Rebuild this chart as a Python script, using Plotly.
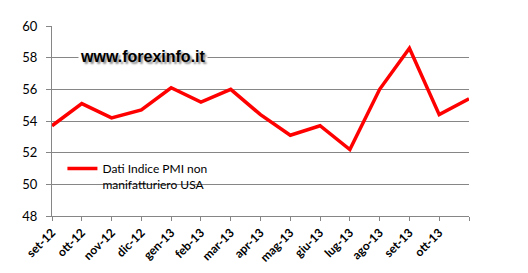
import plotly.graph_objects as go

months = ["set-12", "ott-12", "nov-12", "dic-12", "gen-13", "feb-13", "mar-13",
          "apr-13", "mag-13", "giu-13", "lug-13", "ago-13", "set-13", "ott-13", "nov-13"]
tick_labels = ["set-12", "ott-12", "nov-12", "dic-12", "gen-13", "feb-13", "mar-13",
               "apr-13", "mag-13", "giu-13", "lug-13", "ago-13", "set-13", "ott-13", ""]
pmi_values = [53.7, 55.1, 54.2, 54.7, 56.1, 55.2, 56.0,
              54.4, 53.1, 53.7, 52.2, 56.0, 58.6, 54.4, 55.4]
y_ticks = [48, 50, 52, 54, 56, 58, 60]

x_idx = list(range(len(months)))

fig = go.Figure()
fig.add_trace(go.Scatter(
    x=x_idx, y=pmi_values, mode="lines",
    line=dict(color="#FF0000", width=3.5),
    name="Dati Indice PMI non<br>manifatturiero USA",
    showlegend=True,
))

fig.update_layout(
    width=528, height=273,
    margin=dict(l=52, r=59, t=26, b=57, autoexpand=False),
    paper_bgcolor="white", plot_bgcolor="white",
    font=dict(family="Lato, Open Sans, sans-serif", color="#000000"),
    xaxis=dict(
        range=[0, 14], tickmode="array", tickvals=x_idx, ticktext=tick_labels,
        tickangle=-45, ticks="outside", ticklen=4, tickcolor="#868686",
        showline=True, linecolor="#868686", linewidth=1,
        showgrid=False, zeroline=False, automargin=False,
        tickfont=dict(family="Lato, sans-serif", size=12, color="#000000", weight="bold"),
    ),
    yaxis=dict(
        range=[48, 60], tickmode="array", tickvals=y_ticks,
        ticks="outside", ticklen=5, tickcolor="#868686",
        showline=True, linecolor="#868686", linewidth=1,
        showgrid=True, gridcolor="#868686", gridwidth=1, zeroline=False,
        ticklabelstandoff=6, automargin=False,
        tickfont=dict(family="Lato, sans-serif", size=13, color="#000000"),
    ),
    legend=dict(
        x=0.025, y=0.325, xanchor="left", yanchor="top",
        bgcolor="rgba(0,0,0,0)", valign="top",
        font=dict(family="Lato, sans-serif", size=12, color="#000000"),
    ),
    annotations=[dict(
        text="<b>www.forexinfo.it</b>", x=0.218, y=0.838, xref="paper", yref="paper",
        xanchor="center", yanchor="middle",
        showarrow=False, bgcolor="white",
        font=dict(family="Arial, Liberation Sans, sans-serif", size=16, color="#000000",
                  shadow="2px 2px 2px #8a8a8a"),
    )],
)

fig.write_html("out.html")
